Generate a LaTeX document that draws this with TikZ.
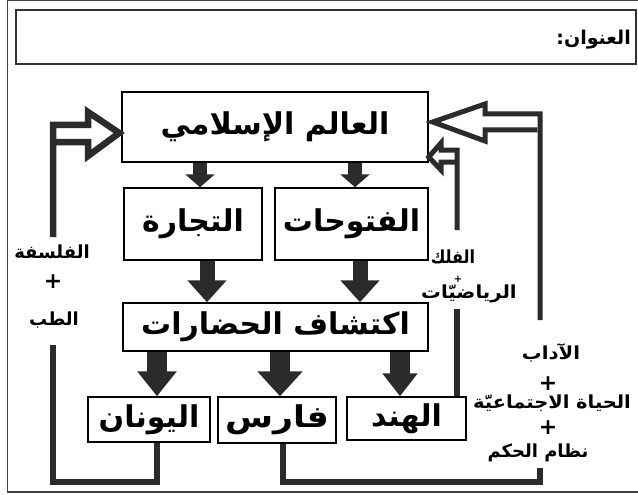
\documentclass[tikz,border=0pt]{standalone}
\usepackage{fontspec}
\newfontfamily\arabicfont[Script=Arabic]{DejaVu Sans}
\newfontfamily\arNarrow[Script=Arabic,FakeStretch=0.89]{DejaVu Sans}
\newfontfamily\arWideA[Script=Arabic,FakeStretch=1.095]{DejaVu Sans}
\newfontfamily\arWideC[Script=Arabic,FakeStretch=1.08]{DejaVu Sans}
\newfontfamily\arWideD[Script=Arabic,FakeStretch=1.16]{DejaVu Sans}
\TeXXeTstate=1
\usetikzlibrary{arrows.meta}
\definecolor{ink}{HTML}{2B2B2B}
\begin{document}
\begin{tikzpicture}[x=1pt,y=-1pt,
  box/.style={draw=black, line width=1.5pt, inner sep=0pt, font=\arabicfont\bfseries\fontsize{30}{32}\selectfont},
  lbl/.style={inner sep=0pt, font=\arabicfont\bfseries\fontsize{18}{20}\selectfont},
  plus/.style={inner sep=0pt, font=\arabicfont\bfseries\fontsize{22}{22}\selectfont},
  conn/.style={draw=ink, line width=6.5pt, line join=miter},
  thin conn/.style={draw=ink, line width=5pt, line join=miter},
  blk/.style={draw=ink, line width=#1},
]
\useasboundingbox (0,0) rectangle (638,495);
\fill[white] (0,0) rectangle (638,495);
\draw[black!75, line width=1.2pt] (7.5,0.8) rectangle (650,492);

% title
\node[draw=black!80, line width=1.5pt, minimum width=620, minimum height=54, inner sep=0pt] (titlebox) at (326,37) {};
\node[inner sep=0pt, anchor=east, font=\arabicfont\bfseries\fontsize{19}{21}\selectfont] (title) at (631,40) {\beginR العنوان:\endR};

% boxes
\node[box, minimum width=306, minimum height=70] (islam) at (275,127) {\beginR العالم الإسلامي\endR};
\node[box, minimum width=138, minimum height=72] (tijara) at (193,224) {\beginR التجارة\endR};
\node[box, minimum width=153, minimum height=72] (futuhat) at (351.5,224) {\beginR الفتوحات\endR};
\node[box, minimum width=305, minimum height=48] (iktishaf) at (275.5,327) {\beginR اكتشاف الحضارات\endR};
\node[box, minimum width=122, minimum height=45] (yunan) at (149,419.5) {\beginR اليونان\endR};
\node[box, minimum width=118, minimum height=46, font=\arWideD\bfseries\fontsize{30}{32}\selectfont] (faris) at (277,420) {\beginR فارس\endR};
\node[box, minimum width=119, minimum height=43] (hind) at (406.5,418.5) {\beginR الهند\endR};

% x positions of arrows
\coordinate (a1) at (200,0);
\coordinate (a2) at (355,0);
\coordinate (a3) at (207,0);
\coordinate (a4) at (360,0);
\coordinate (a5) at (157,0);
\coordinate (a6) at (280,0);
\coordinate (a7) at (400,0);

% filled arrows
\draw[blk=14pt, -{Triangle[length=13pt,width=29pt]}] (islam.south -| a1) -- (tijara.north -| a1);
\draw[blk=14pt, -{Triangle[length=13pt,width=29pt]}] (islam.south -| a2) -- (futuhat.north -| a2);
\draw[blk=15pt, -{Triangle[length=22pt,width=38pt]}] (tijara.south -| a3) -- (iktishaf.north -| a3);
\draw[blk=15pt, -{Triangle[length=22pt,width=38pt]}] (futuhat.south -| a4) -- (iktishaf.north -| a4);
\draw[blk=20pt, -{Triangle[length=25pt,width=38pt]}] (iktishaf.south -| a5) -- (yunan.north -| a5);
\draw[blk=20pt, -{Triangle[length=25pt,width=44pt]}] (iktishaf.south -| a6) -- (faris.north -| a6);
\draw[blk=20pt, -{Triangle[length=23pt,width=34pt]}] (iktishaf.south -| a7) -- (hind.north -| a7);

% left connector
\coordinate (yb) at (157,0);
\coordinate (lb) at (53,482);
\coordinate (lt) at (53,345);
\draw[conn] (yunan.south -| yb) |- (lb) -- (lt);
\coordinate (tipL) at ([xshift=-2pt,yshift=-6pt]islam.west);
\draw[conn] (53,237) -- (53,125) -- (88,125) -- (88,112) -- (tipL) -- (88,156) -- (88,142) -- (56,142);

% right connector
\coordinate (fb) at (283,0);
\coordinate (rb) at (540,482);
\coordinate (rt) at (540,468);
\draw[conn] (faris.south -| fb) |- (rb) -- (rt);
\coordinate (tipR) at ([xshift=4pt,yshift=5pt]islam.east);
\draw[thin conn] (540,320) -- (540,114) -- (485,114) -- (485,104) -- (tipR) -- (485,141) -- (485,130) -- (537,130);

% middle connector
\coordinate (hm) at (457,0);
\draw[conn] (hind.north -| hm) -- (457,309);
\coordinate (tipM) at ([xshift=0pt,yshift=-30pt]islam.east);
\draw[thin conn] (457,230) -- (457,150) -- (441,150) -- (441,143) -- (tipM) -- (441,170) -- (441,162) -- (455,162);

% labels
\node[lbl] (falsafa) at (52,252) {\beginR الفلسفة\endR};
\node[plus] (p1) at (53,282) {+};
\node[lbl] (tibb) at (54,320) {\beginR الطب\endR};

\node[lbl, font=\arNarrow\bfseries\fontsize{18}{20}\selectfont] (falak) at (453,257) {\beginR الفلك\endR};
\node[inner sep=0pt, font=\arabicfont\bfseries\fontsize{10}{10}\selectfont] (p2) at (458,279) {+};
\node[lbl, font=\arWideA\bfseries\fontsize{18}{20}\selectfont] (riyadiyat) at (469,294) {\beginR الرياضيّات\endR};

\node[lbl, font=\arWideA\bfseries\fontsize{18}{20}\selectfont] (adab) at (551,353) {\beginR الآداب\endR};
\node[plus] (p3) at (548,384) {+};
\node[lbl, font=\arWideC\bfseries\fontsize{18}{20}\selectfont] (hayat) at (552,403) {\beginR الحياة الاجتماعيّة\endR};
\node[plus] (p4) at (548,428) {+};
\node[lbl] (nizam) at (538,453) {\beginR نظام الحكم\endR};
\end{tikzpicture}
\end{document}
